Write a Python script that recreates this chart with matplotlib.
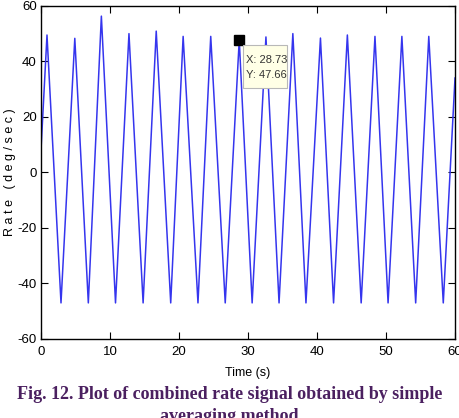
import matplotlib
matplotlib.use("Agg")
from matplotlib import pyplot as plt
from matplotlib.patches import Rectangle

plt.rcParams['axes.unicode_minus'] = False

# turning points of the rate signal
start_t, start_v = 0.0, 8.0
peak_t = [0.87, 4.9, 8.75, 12.75, 16.7, 20.6, 24.6, 28.73, 32.6, 36.5, 40.5, 44.4, 48.4, 52.3, 56.2]
peak_v = [49.5, 48.3, 56.3, 50.0, 50.9, 49.0, 49.0, 47.66, 48.8, 50.0, 48.4, 49.5, 49.0, 49.0, 49.0]
trough_t = [2.9, 6.86, 10.8, 14.8, 18.8, 22.75, 26.7, 30.6, 34.5, 38.4, 42.4, 46.4, 50.3, 54.3, 58.3]
trough_v = [-47, -47, -47, -47, -47, -47, -47, -47, -47, -47, -47, -47, -47, -47, -47]
end_t, end_v = 60.0, 34.0

tip_x, tip_y = 28.73, 47.66
x_ticks = [0, 10, 20, 30, 40, 50, 60]
y_ticks = [-60, -40, -20, 0, 20, 40, 60]

t = [start_t]
v = [start_v]
for pt, pv, tt, tv in zip(peak_t, peak_v, trough_t, trough_v):
    t += [pt, tt]
    v += [pv, tv]
t.append(end_t)
v.append(end_v)

W, H = 459, 418
fig = plt.figure(figsize=(W / 100, H / 100), dpi=100)
ax = fig.add_axes([0.0893, 0.189, 0.902, 0.797])
ax.plot(t, v, color='#3535ee', lw=1.1)
ax.set_xlim(0, 60)
ax.set_ylim(-60, 60)
ax.set_xticks(x_ticks)
ax.set_yticks(y_ticks)
ax.tick_params(direction='in', top=True, right=True, length=5, width=0.8,
               labelsize=9.5, colors='black')
ax.tick_params(axis='x', pad=5)
ax.tick_params(axis='y', pad=3)
for lab in ax.get_xticklabels() + ax.get_yticklabels():
    lab.set_family('Liberation Sans')
for s in ax.spines.values():
    s.set_linewidth(1.0)

ax.set_xlabel('Time (s)', family='Liberation Sans', fontsize=9)
ax.xaxis.set_label_coords(0.5, -0.085)
ax.set_ylabel('R a t e   ( d e g / s e c )', family='Liberation Sans', fontsize=9)
ax.yaxis.set_label_coords(-0.06, 0.5)

# data tip
ax.plot([tip_x], [tip_y], marker='s', ms=7, color='black', ls='none')
fig.patches.append(Rectangle((243 / W, 1 - 88 / H), 44 / W, 43 / H, transform=fig.transFigure,
                             fc='#ffffe6', ec='#b8b8b8', lw=0.8, zorder=5))
fig.text(246 / W, 1 - 55 / H, 'X: %.2f\nY: %.2f' % (tip_x, tip_y), fontsize=8,
         family='Liberation Sans', va='top', ha='left', color='#333333',
         linespacing=1.6, zorder=6)

fig.text(0.5, 1 - 399 / H, 'Fig. 12. Plot of combined rate signal obtained by simple',
         ha='center', va='baseline', family='Liberation Serif', weight='bold',
         fontsize=13, color='#4b2060')
fig.text(0.5, 1 - 421 / H, 'averaging method',
         ha='center', va='baseline', family='Liberation Serif', weight='bold',
         fontsize=13, color='#4b2060')

fig.savefig('out.png', dpi=100)
